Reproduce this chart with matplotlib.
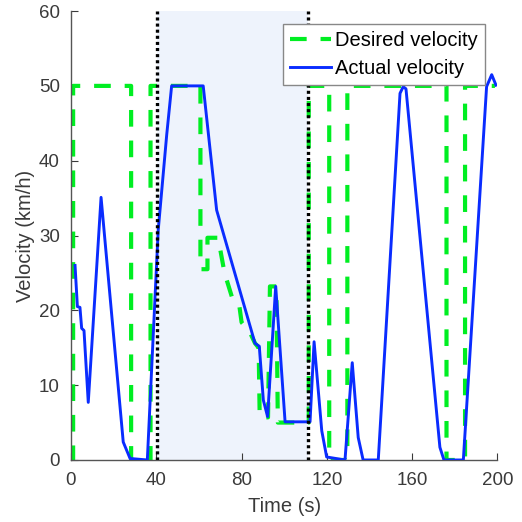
import matplotlib
matplotlib.use("Agg")
import matplotlib.pyplot as plt

plt.rcParams['font.family'] = ['Liberation Sans', 'DejaVu Sans']
plt.rcParams['lines.scale_dashes'] = False

# Desired velocity (step-like reference)
t_des = [0, 1, 1, 28.2, 28.2, 37.3, 37.3, 60.7, 60.7, 64.0, 64.0, 69.0, 72.0, 76.0, 79.0,
         80.0, 84.0, 86.3, 88.0, 88.5, 92.4, 93.3, 96.3, 97.0, 111.5, 111.5, 121.1, 121.1,
         129.6, 129.6, 176.1, 176.1, 184.8, 184.8, 198.8]
v_des = [0, 0, 50, 50, 0, 0, 50, 50, 25.5, 25.5, 29.7, 29.7, 25.0, 21.3, 20.5,
         18.4, 17.0, 15.6, 15.0, 5.7, 5.7, 23.2, 23.2, 5.0, 5.0, 50, 50, 0,
         0, 50, 50, 0, 0, 50, 50]

# Actual velocity
t_act = [1.9, 3.0, 4.2, 5.0, 6.1, 8.1, 14.1, 24.5, 27.7, 35.8, 40.9, 44.9, 47.2, 62.0,
         68.3, 86.3, 88.3, 90.2, 92.2, 96.0, 100.4, 112.1, 114.0, 117.6, 119.9, 128.5,
         131.9, 134.7, 137.0, 144.1, 154.3, 155.8, 157.1, 173.0, 174.9, 184.0, 194.9,
         197.3, 199.3]
v_act = [26.0, 20.5, 20.4, 17.6, 17.3, 7.7, 35.1, 2.4, 0.2, 0.0, 30.7, 43.5, 50.0, 50.0,
         33.4, 15.6, 15.2, 8.0, 5.8, 23.2, 5.1, 5.1, 15.8, 3.9, 0.4, 0.0,
         13.0, 3.0, 0.0, 0.0, 49.0, 49.9, 49.6, 1.7, 0.0, 0.0, 49.9,
         51.5, 50.1]

# Highlighted interval
t_start, t_end = 40.5, 111.0

x_ticks = [0, 40, 80, 120, 160, 200]
y_ticks = [0, 10, 20, 30, 40, 50, 60]

fig = plt.figure(figsize=(5.22, 5.22), dpi=100)
ax = fig.add_axes([0.136, 0.1188, 0.817, 0.86])

ax.axvspan(t_start, t_end, color='#eef3fc', lw=0, zorder=0)

ax.plot(t_des, v_des, color='#00ee22', lw=3.0, dashes=(12, 10),
        dash_joinstyle='round', label='Desired velocity', zorder=2)
ax.plot(t_act, v_act, color='#0a2cff', lw=2.1, label='Actual velocity', zorder=3)

for tv in (t_start, t_end):
    ax.axvline(tv, color='black', lw=2.4, dashes=(2.2, 2.2), zorder=4)

ax.set_xlim(0, 200)
ax.set_ylim(0, 60)
ax.set_xticks(x_ticks)
ax.set_yticks(y_ticks)
ax.tick_params(direction='in', length=5, width=0.8, colors='#3a3a3a', labelsize=13.5)
ax.tick_params(axis='x', pad=8.5)
ax.tick_params(axis='y', pad=8.0)
for s in ('top', 'right'):
    ax.spines[s].set_visible(False)
for s in ('left', 'bottom'):
    ax.spines[s].set_color('#555555')
    ax.spines[s].set_linewidth(1.0)

ax.set_xlabel('Time (s)', fontsize=14.5, color='#3a3a3a', labelpad=6)
ax.set_ylabel('Velocity (km/h)', fontsize=14.5, color='#3a3a3a', labelpad=3)

leg = ax.legend(loc='upper right', bbox_to_anchor=(0.971, 0.971), borderaxespad=0,
                fontsize=14.5, fancybox=False, edgecolor='#888888', framealpha=1,
                handlelength=2.05, handletextpad=0.2, borderpad=0.35, labelspacing=0.45)
leg.get_frame().set_linewidth(1.0)

fig.savefig('out.png', dpi=100)
